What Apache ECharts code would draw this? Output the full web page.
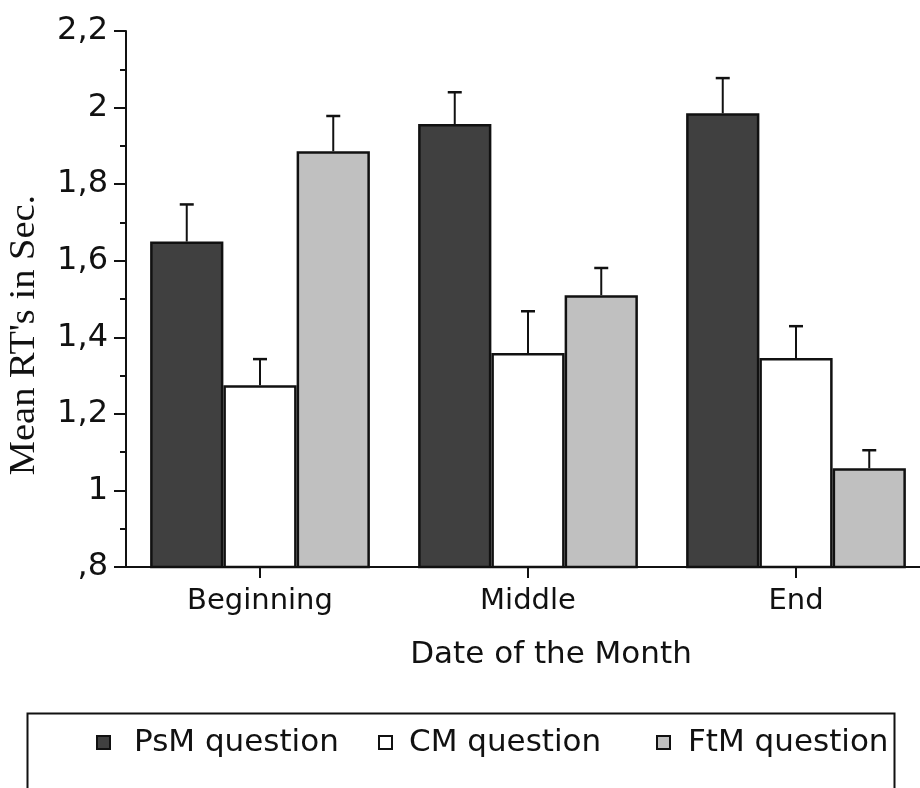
<!DOCTYPE html>
<html>
<head>
<meta charset="utf-8">
<script src="https://cdn.jsdelivr.net/npm/echarts@6/dist/echarts.min.js"></script>
<style>
html,body{margin:0;padding:0;background:#fff;overflow:hidden;}
#chart{width:940px;height:788px;}
</style>
</head>
<body>
<div id="chart"></div>
<script>
const categories = ['Beginning', 'Middle', 'End'];
const seriesNames = ['PsM question', 'CM question', 'FtM question'];
const psmValues = [1.650, 1.957, 1.985];
const psmErrors = [0.097, 0.083, 0.092];
const cmValues = [1.275, 1.359, 1.346];
const cmErrors = [0.068, 0.109, 0.083];
const ftmValues = [1.886, 1.510, 1.058];
const ftmErrors = [0.092, 0.071, 0.047];
const yTickLabels = [',8', '1', '1,2', '1,4', '1,6', '1,8', '2', '2,2'];
const xAxisTitle = 'Date of the Month';
const yAxisTitle = "Mean RT's in Sec.";

const colors = ['#404040', '#ffffff', '#c0c0c0'];
const FONT = '"DejaVu Sans", Verdana, sans-serif';
const CAT_GAP = 0.18;

const chart = echarts.init(document.getElementById('chart'), null, {renderer: 'canvas'});

function errSeries(idx, vals, errs) {
  return {
    type: 'custom',
    name: seriesNames[idx] + ' err',
    z: 5,
    silent: true,
    data: vals.map((v, i) => [i, v, errs[i]]),
    renderItem: function (params, api) {
      const ci = api.value(0);
      const v = api.value(1);
      const e = api.value(2);
      const band = api.size([1, 0])[0];
      const barW = band * (1 - CAT_GAP) / 3;
      const base = api.coord([ci, v]);
      const top = api.coord([ci, v + e]);
      const x = base[0] + (idx - 1) * barW;
      const cap = 7;
      return {
        type: 'group',
        children: [
          {type: 'line', shape: {x1: x, y1: base[1], x2: x, y2: top[1]}, style: {stroke: '#111', lineWidth: 2}},
          {type: 'line', shape: {x1: x - cap, y1: top[1], x2: x + cap, y2: top[1]}, style: {stroke: '#111', lineWidth: 2.5}}
        ]
      };
    }
  };
}

function barSeries(idx, vals) {
  return {
    type: 'bar',
    name: seriesNames[idx],
    data: vals,
    barGap: '0%',
    barCategoryGap: (CAT_GAP * 100) + '%',
    itemStyle: {color: colors[idx], borderColor: '#111', borderWidth: 2.5},
    emphasis: {disabled: true}
  };
}

const legendCommon = {
  top: 722,
  itemWidth: 13,
  itemHeight: 13,
  icon: 'rect',
  selectedMode: false,
  textStyle: {fontFamily: FONT, fontSize: 31, color: '#111'}
};

const option = {
  animation: false,
  backgroundColor: '#fff',
  grid: {left: 126, top: 31, width: 804, height: 536, containLabel: false},
  xAxis: {
    type: 'category',
    data: categories,
    axisLine: {show: true, lineStyle: {color: '#111', width: 2}},
    axisTick: {show: true, alignWithLabel: true, length: 11, inside: false, lineStyle: {color: '#111', width: 2}},
    axisLabel: {fontFamily: FONT, fontSize: 29, color: '#111', margin: 20},
    splitLine: {show: false}
  },
  yAxis: {
    type: 'value',
    min: 0.8,
    max: 2.2,
    interval: 0.2,
    axisLine: {show: true, lineStyle: {color: '#111', width: 2}},
    axisTick: {show: true, length: 12, inside: false, lineStyle: {color: '#111', width: 2}},
    minorTick: {show: true, splitNumber: 2, length: 6, lineStyle: {color: '#111', width: 2}},
    splitLine: {show: false},
    axisLabel: {
      fontFamily: FONT, fontSize: 32, color: '#111', margin: 18,
      formatter: function (v) {
        const i = Math.round((v - 0.8) / 0.2);
        return yTickLabels[i] !== undefined ? yTickLabels[i] : '';
      }
    }
  },
  legend: [
    Object.assign({}, legendCommon, {left: 91, data: [seriesNames[0]], textStyle: Object.assign({}, legendCommon.textStyle, {padding: [0, 0, 0, 19]})}),
    Object.assign({}, legendCommon, {left: 373, data: [seriesNames[1]], textStyle: Object.assign({}, legendCommon.textStyle, {padding: [0, 0, 0, 12]})}),
    Object.assign({}, legendCommon, {left: 651, data: [seriesNames[2]], textStyle: Object.assign({}, legendCommon.textStyle, {padding: [0, 0, 0, 13]})})
  ],
  graphic: [
    {type: 'rect', left: 25, top: 711, shape: {width: 867, height: 120}, style: {fill: 'none', stroke: '#111', lineWidth: 2}, z: 0},
    {type: 'text', x: 25, y: 335, rotation: Math.PI / 2, scaleX: 1.1,
     style: {text: yAxisTitle, font: '35px "Liberation Serif", "Times New Roman", serif', fill: '#111', textAlign: 'center', textVerticalAlign: 'middle'}},
    {type: 'text', x: 551, y: 655,
     style: {text: xAxisTitle, font: '31px ' + FONT, fill: '#111', textAlign: 'center', textVerticalAlign: 'middle'}}
  ],
  series: [
    barSeries(0, psmValues),
    barSeries(1, cmValues),
    barSeries(2, ftmValues),
    errSeries(0, psmValues, psmErrors),
    errSeries(1, cmValues, cmErrors),
    errSeries(2, ftmValues, ftmErrors)
  ]
};

chart.setOption(option);
</script>
</body>
</html>
